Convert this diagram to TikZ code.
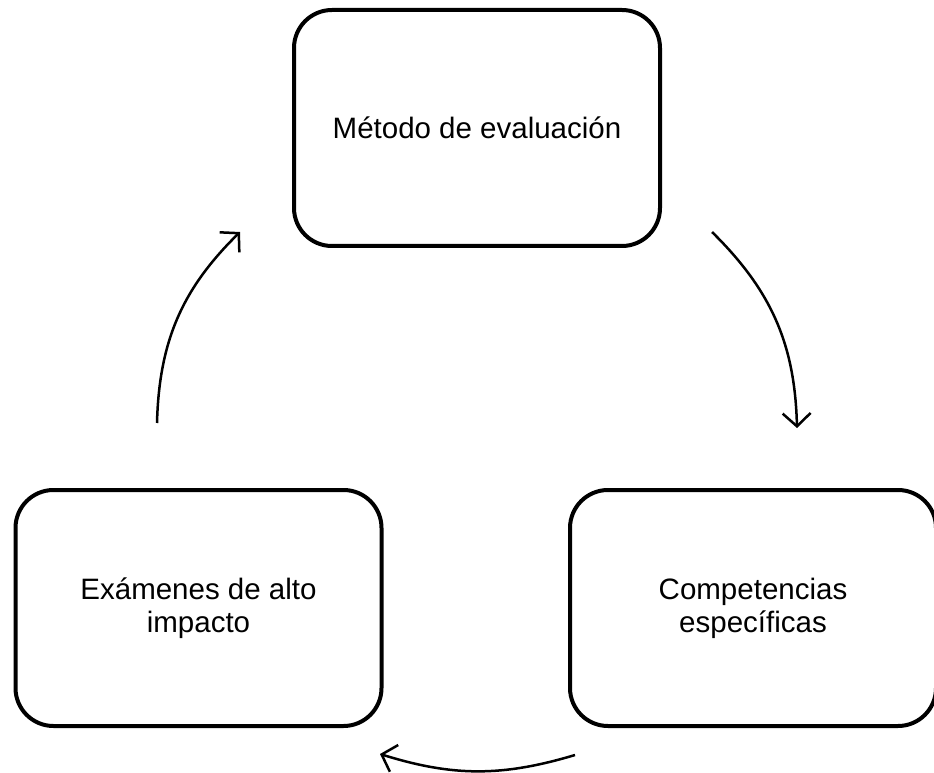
\documentclass[tikz,border=0pt]{standalone}
\usepackage{fontspec}
\setmainfont{Liberation Sans}
\usetikzlibrary{arrows.meta}
\begin{document}
\begin{tikzpicture}[x=1pt, y=1pt,
        caja/.style={draw, line width=4pt, rounded corners=38pt, minimum width=366pt, minimum height=236pt, align=center, font=\fontsize{29.5}{33}\selectfont},
        flecha/.style={line width=2.5pt, -{Straight Barb[length=13pt, width=28pt, line width=2.5pt]}}]
        \useasboundingbox (0, 0) rectangle (934, 772);

        \node[caja] (metodo) at (477, 644) {Método de evaluación};
        \node[caja] (examenes) at (198.5, 164) {Exámenes de alto\\impacto};
        \node[caja] (competencias) at (753, 164) {Competencias\\específicas};

        \coordinate (a1) at (712, 540);
        \coordinate (a2) at (797, 344);
        \coordinate (b1) at (575, 17);
        \coordinate (b2) at (380, 18);
        \coordinate (c1) at (157, 349);
        \coordinate (c2) at (240, 540);

        \draw [flecha] (a1) to[bend left=22] (a2);
        \draw [flecha] (b1) to[bend left=17] (b2);
        \draw [flecha] (c1) to[bend left=22] (c2);
    \end{tikzpicture}
\end{document}
